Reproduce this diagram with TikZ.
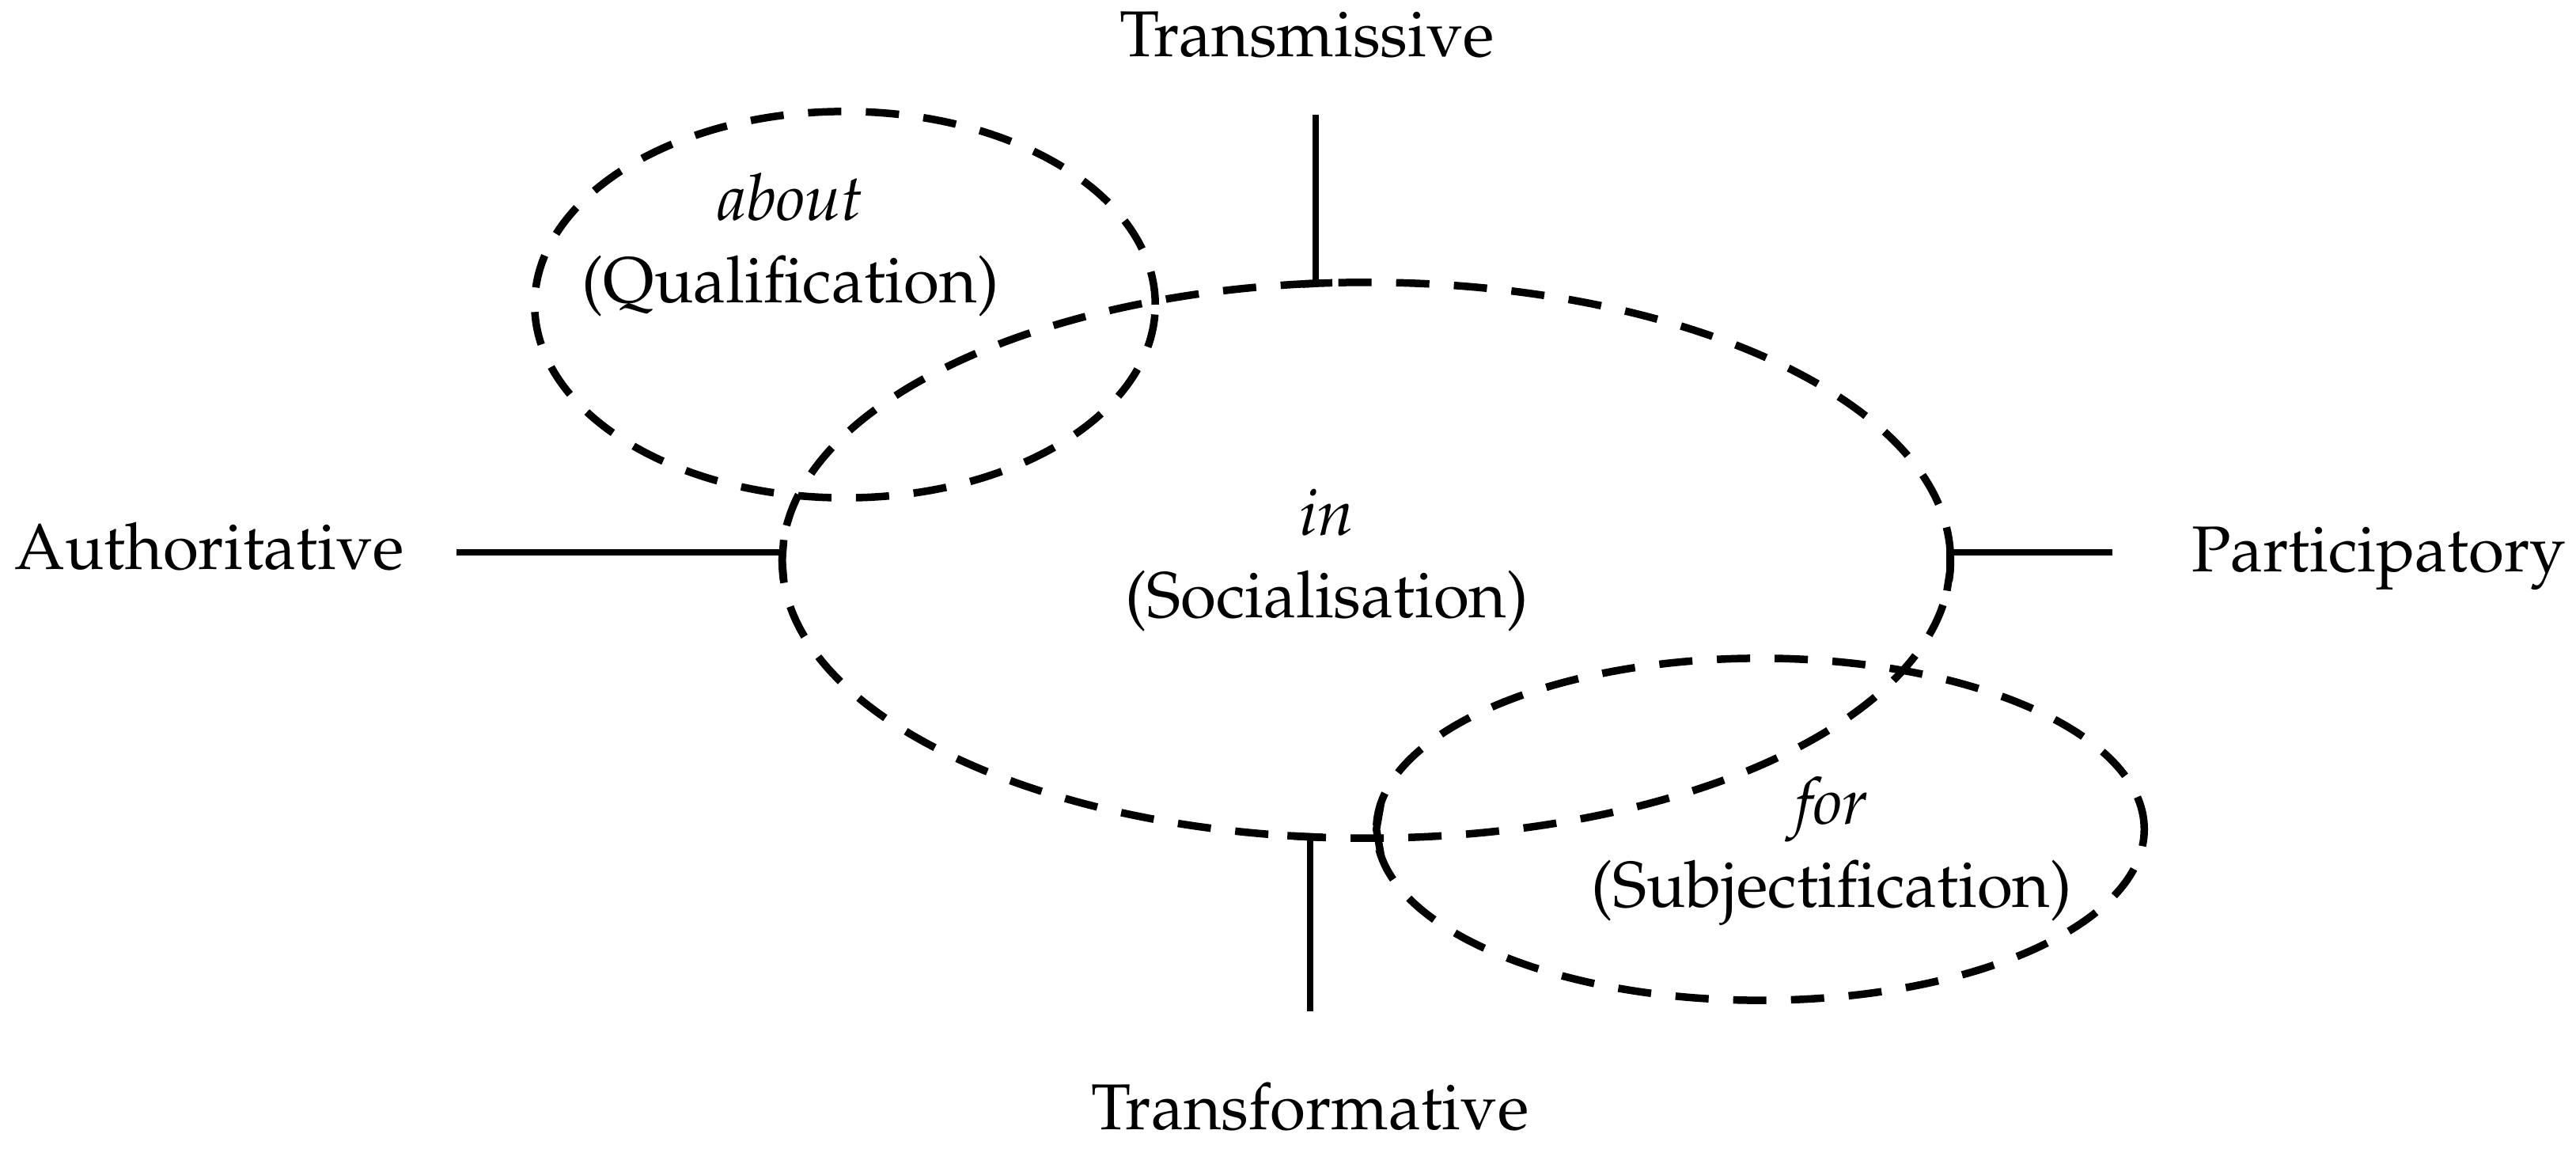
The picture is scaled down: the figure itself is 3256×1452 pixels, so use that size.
\documentclass[tikz,border=0pt]{standalone}
\usepackage[T1]{fontenc}
\usepackage{palatino}
\usetikzlibrary{shapes.geometric}
\begin{document}
\begin{tikzpicture}[x=0.01cm,y=-0.01cm,
  every node/.style={font=\fontsize{23.3}{29.6}\selectfont},
  ring/.style={draw, ellipse, dash pattern=on 0.42cm off 0.31cm, line width=2.7pt, inner sep=0pt, outer sep=0pt},
  axisline/.style={line width=2.5pt},
  tick/.style={line width=2.7pt, line cap=butt},
  lbl/.style={align=center, anchor=base, inner sep=0pt}]
\useasboundingbox (0,0) rectangle (3256,1452);
% ellipses
\node[ring, minimum width=14.76cm, minimum height=7.02cm] (main) at (1727,708) {};
\node[ring, minimum width=7.84cm, minimum height=4.88cm] (qual) at (1068,385) {};
\node[ring, minimum width=9.70cm, minimum height=4.32cm] (subj) at (2225,1048) {};
% ellipse labels (anchor = baseline of the last line)
\node[lbl] (inl) at (1677,781) {\textit{in}\\(Socialisation)};
\node[lbl] (aboutl) at (999,383) {\textit{about}\\(Qualification)};
\node[lbl] (forl) at (2315,1146) {\textit{for}\\(Subjectification)};
% outer labels
\node[lbl] (trans) at (1652,72) {Transmissive};
\node[lbl] (transf) at (1656,1427) {Transformative};
\node[lbl, anchor=base west] (auth) at (18,720) {Authoritative};
\node[lbl, anchor=base east] (part) at (3244,722) {Participatory};
% connectors
\coordinate (ttop) at (1663,145);
\coordinate (bbot) at (1656,1278);
\coordinate (lend) at (577,698);
\coordinate (rend) at (2670,698);
\draw[axisline] (ttop) -- (ttop |- main.north);
\draw[axisline] (bbot) -- (bbot |- main.south);
\draw[axisline] (lend) -- (lend -| main.west);
\draw[axisline] (rend) -- (rend -| main.east);
% solid dash pieces at junctions
\draw[tick] (main.97) -- (main.100) -- (main.103);
\draw[tick] (main.254) -- (main.257) -- (main.261);
\draw[tick] (main.178) -- (main.180) -- (main.182);
\draw[tick] (main.1) -- (main.359) -- (main.357);
\draw[tick] (subj.176) -- (subj.180) -- (subj.184);
\end{tikzpicture}
\end{document}
